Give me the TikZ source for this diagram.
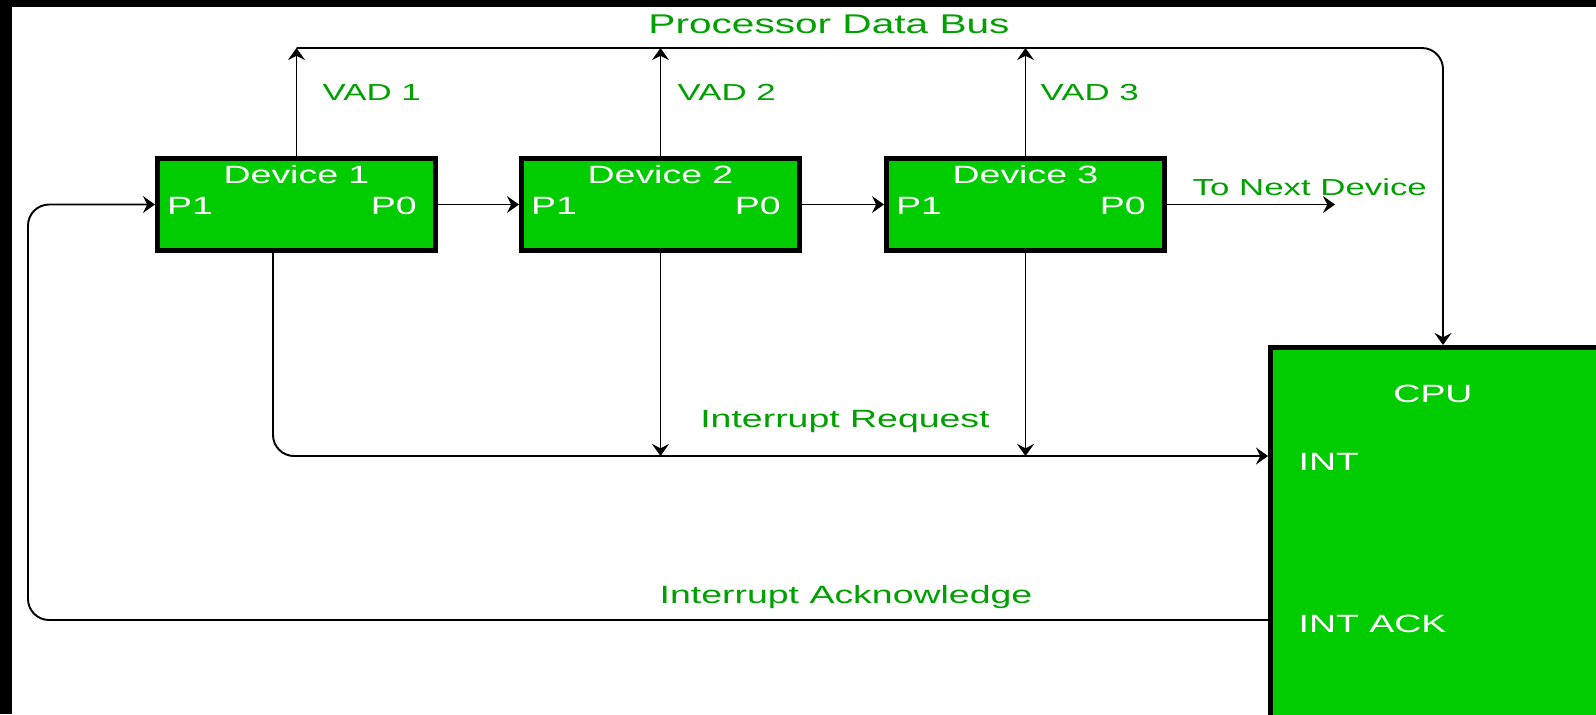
\documentclass[tikz,border=0pt]{standalone}
\usepackage{fontspec}
\setmainfont{Liberation Sans}[FakeStretch=1.5]
\usepackage{xcolor}
\usetikzlibrary{arrows.meta, positioning, calc}
\definecolor{devgreen}{HTML}{00CC00}
\definecolor{lblgreen}{HTML}{00A000}

\begin{document}
\begin{tikzpicture}[x=0.01cm, y=-0.01cm, every node/.style={inner sep=0pt},
  wire/.style={line width=0.55pt, black},
  arr/.style={wire, -{Stealth[length=3.4pt, width=4.8pt, inset=1.2pt]}},
  devbox/.style={draw=black, line width=1.4pt, fill=devgreen,
    minimum width=2.78cm, minimum height=0.92cm},
  intxt/.style={text=white, font=\fontsize{7.1}{8.5}\selectfont},
  lbl/.style={text=lblgreen, font=\fontsize{7.1}{8.5}\selectfont}]
  \useasboundingbox (0,0) rectangle (1596,714);
  % dark edges of the screenshot
  \fill[black] (0,0) rectangle (12,714);
  \fill[black] (0,0) rectangle (1596,7);

  \def\dy{204.5}  % device row
  \foreach \i/\xx in {1/296.5, 2/660.5, 3/1025.5} {
    \node[devbox] (dev\i) at (\xx,\dy) {};
    \node[intxt, anchor=base] (dev\i name) at (\xx,183) {Device \i};
    \node[intxt, anchor=base west] (dev\i p1) at (\xx-130,214) {P1};
    \node[intxt, anchor=base east] (dev\i p0) at (\xx+121,214) {P0};
  }

  \node[devbox, anchor=north west, minimum width=4cm, minimum height=4.5cm]
       (cpu) at (1268,345) {};
  \node[intxt, anchor=base] (cpuname) at (1433,402) {CPU};
  \node[intxt, anchor=base west] (cpuint) at (1298,470) {INT};
  \node[intxt, anchor=base west] (cpuack) at (1298,632) {INT ACK};

  \coordinate (bus) at (1443,48);
  \coordinate (irq) at (660,456);
  \coordinate (ack) at ($(cpu.north west)+(0,275)$);
  \coordinate (loop) at (28,0);
  \coordinate (next) at (1335,204.5);

  % data bus
  \draw[arr, rounded corners=6pt] (dev1.north |- bus) -- (bus) -- (bus |- cpu.north);
  \foreach \i in {1,2,3}
    \draw[arr] (dev\i.north) -- (dev\i.north |- bus);

  % daisy chain
  \draw[arr] (dev1.east) -- (dev2.west);
  \draw[arr] (dev2.east) -- (dev3.west);
  \draw[arr] (dev3.east) -- (next);

  % interrupt request
  \draw[arr, rounded corners=6pt] ($(dev1.south)+(-23.5,0)$) |- (cpu.west |- irq);
  \foreach \i in {2,3}
    \draw[arr] (dev\i.south) -- (dev\i.south |- irq);

  % interrupt acknowledge
  \draw[arr, rounded corners=6pt] (ack) -- (ack -| loop) -- (loop |- dev1.west) -- (dev1.west);

  \node[lbl, anchor=base, font=\fontsize{7.7}{9}\selectfont] (buslbl) at (829,33) {Processor Data Bus};
  \node[lbl, anchor=base west, font=\fontsize{6.6}{8}\selectfont] (vad1) at (322,100) {VAD 1};
  \node[lbl, anchor=base west, font=\fontsize{6.6}{8}\selectfont] (vad2) at (677,100) {VAD 2};
  \node[lbl, anchor=base west, font=\fontsize{6.6}{8}\selectfont] (vad3) at (1040,100) {VAD 3};
  \node[lbl, anchor=base west, font=\fontsize{6.6}{8}\selectfont] (nextlbl) at (1192,195) {To Next Device};
  \node[lbl, anchor=base] (irqlbl) at (845,427) {Interrupt Request};
  \node[lbl, anchor=base] (acklbl) at (846,603) {Interrupt Acknowledge};
\end{tikzpicture}
\end{document}
